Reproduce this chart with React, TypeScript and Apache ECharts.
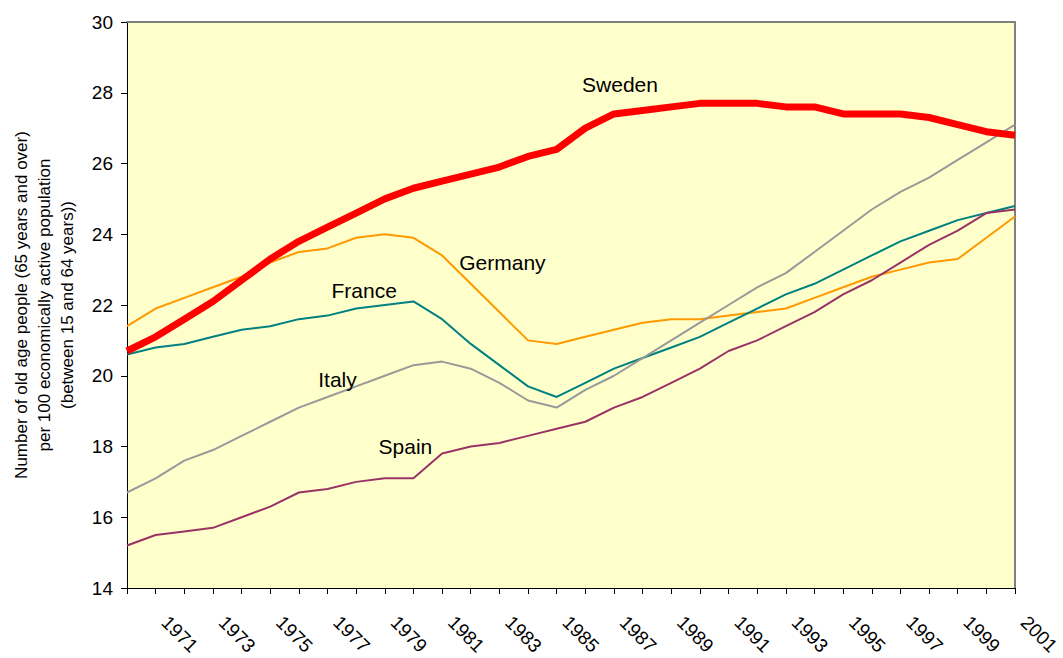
import React, { useEffect, useRef } from "react";
import * as echarts from "echarts";

const years = [
  "1970", "1971", "1972", "1973", "1974", "1975", "1976", "1977", "1978", "1979",
  "1980", "1981", "1982", "1983", "1984", "1985", "1986", "1987", "1988", "1989",
  "1990", "1991", "1992", "1993", "1994", "1995", "1996", "1997", "1998", "1999",
  "2000", "2001",
];

const sweden = [20.7, 21.1, 21.6, 22.1, 22.7, 23.3, 23.8, 24.2, 24.6, 25.0, 25.3, 25.5, 25.7, 25.9, 26.2, 26.4, 27.0, 27.4, 27.5, 27.6, 27.7, 27.7, 27.7, 27.6, 27.6, 27.4, 27.4, 27.4, 27.3, 27.1, 26.9, 26.8];
const germany = [21.4, 21.9, 22.2, 22.5, 22.8, 23.2, 23.5, 23.6, 23.9, 24.0, 23.9, 23.4, 22.6, 21.8, 21.0, 20.9, 21.1, 21.3, 21.5, 21.6, 21.6, 21.7, 21.8, 21.9, 22.2, 22.5, 22.8, 23.0, 23.2, 23.3, 23.9, 24.5];
const france = [20.6, 20.8, 20.9, 21.1, 21.3, 21.4, 21.6, 21.7, 21.9, 22.0, 22.1, 21.6, 20.9, 20.3, 19.7, 19.4, 19.8, 20.2, 20.5, 20.8, 21.1, 21.5, 21.9, 22.3, 22.6, 23.0, 23.4, 23.8, 24.1, 24.4, 24.6, 24.8];
const italy = [16.7, 17.1, 17.6, 17.9, 18.3, 18.7, 19.1, 19.4, 19.7, 20.0, 20.3, 20.4, 20.2, 19.8, 19.3, 19.1, 19.6, 20.0, 20.5, 21.0, 21.5, 22.0, 22.5, 22.9, 23.5, 24.1, 24.7, 25.2, 25.6, 26.1, 26.6, 27.1];
const spain = [15.2, 15.5, 15.6, 15.7, 16.0, 16.3, 16.7, 16.8, 17.0, 17.1, 17.1, 17.8, 18.0, 18.1, 18.3, 18.5, 18.7, 19.1, 19.4, 19.8, 20.2, 20.7, 21.0, 21.4, 21.8, 22.3, 22.7, 23.2, 23.7, 24.1, 24.6, 24.7];

const yTitle = [
  "Number of old age people (65 years and over)",
  "per 100 economically active population",
  "(between 15 and 64 years))",
];

const FONT = "'Liberation Sans', Arial, sans-serif";

function labelPoint(name: string, year: string, value: number, dx: number) {
  return {
    symbol: "circle",
    symbolSize: 1,
    silent: true,
    itemStyle: { color: "rgba(0,0,0,0)" },
    label: {
      show: true,
      position: "inside",
      formatter: name,
      color: "#000",
      fontSize: 21,
      fontFamily: FONT,
      offset: [dx, 0],
    },
    data: [{ coord: [year, value] }],
  };
}

function makeSeries(name: string, data: number[], color: string, width: number, lbl: any) {
  return {
    name,
    type: "line",
    data,
    symbol: "none",
    lineStyle: { color, width },
    itemStyle: { color },
    markPoint: lbl,
    z: width > 3 ? 5 : 2,
  };
}

export default function App() {
  const ref = useRef<HTMLDivElement>(null);
  useEffect(() => {
    if (!ref.current) return;
    const chart = echarts.init(ref.current, null, { renderer: "svg" });
    chart.setOption({
      animation: false,
      backgroundColor: "#ffffff",
      textStyle: { fontFamily: FONT },
      grid: {
        left: 127,
        right: 48,
        top: 22,
        bottom: 70,
        containLabel: false,
        outerBoundsMode: "none",
        show: true,
        backgroundColor: "#FFFFCC",
        borderWidth: 0,
      },
      xAxis: [
        {
          type: "category",
          data: years,
          boundaryGap: false,
          axisLine: { show: true, lineStyle: { color: "#000", width: 1 } },
          axisTick: { show: true, inside: false, length: 6, interval: 0, lineStyle: { color: "#000" } },
          axisLabel: {
            interval: (i: number) => i % 2 === 1,
            rotate: -45,
            color: "#000",
            fontSize: 19,
            fontFamily: FONT,
            margin: 22,
            padding: [0, 0, 0, 13],
          },
          splitLine: { show: false },
        },
        {
          type: "category",
          data: years,
          boundaryGap: false,
          position: "top",
          axisLine: { show: true, lineStyle: { color: "#808080", width: 2 } },
          axisTick: { show: false },
          axisLabel: { show: false },
          splitLine: { show: false },
        },
      ],
      yAxis: [
        {
          type: "value",
          min: 14,
          max: 30,
          interval: 2,
          name: yTitle.join("\n"),
          nameLocation: "middle",
          nameRotate: 90,
          nameGap: 48,
          nameTextStyle: { color: "#000", fontSize: 17, lineHeight: 23, fontFamily: FONT, align: "center" },
          axisLine: { show: true, lineStyle: { color: "#000", width: 1 } },
          axisTick: { show: true, inside: false, length: 6, lineStyle: { color: "#000" } },
          axisLabel: { color: "#000", fontSize: 19, fontFamily: FONT, margin: 14 },
          splitLine: { show: false },
        },
        {
          type: "value",
          min: 14,
          max: 30,
          interval: 2,
          position: "right",
          axisLine: { show: true, lineStyle: { color: "#808080", width: 2 } },
          axisTick: { show: false },
          axisLabel: { show: false },
          splitLine: { show: false },
        },
      ],
      series: [
        makeSeries("Germany", germany, "#FF9900", 2, labelPoint("Germany", "1983", 23.19, 3)),
        makeSeries("France", france, "#008080", 2, labelPoint("France", "1978", 22.42, 8)),
        makeSeries("Italy", italy, "#999999", 2, labelPoint("Italy", "1977", 19.9, 10)),
        makeSeries("Spain", spain, "#993366", 2, labelPoint("Spain", "1980", 18.0, -8)),
        makeSeries("Sweden", sweden, "#FF0000", 7, labelPoint("Sweden", "1987", 28.22, 6)),
      ],
    });
    return () => chart.dispose();
  }, []);
  return (
    <div
      ref={ref}
      style={{ position: "fixed", left: 0, top: 0, width: 1063, height: 658, background: "#fff" }}
    />
  );
}
